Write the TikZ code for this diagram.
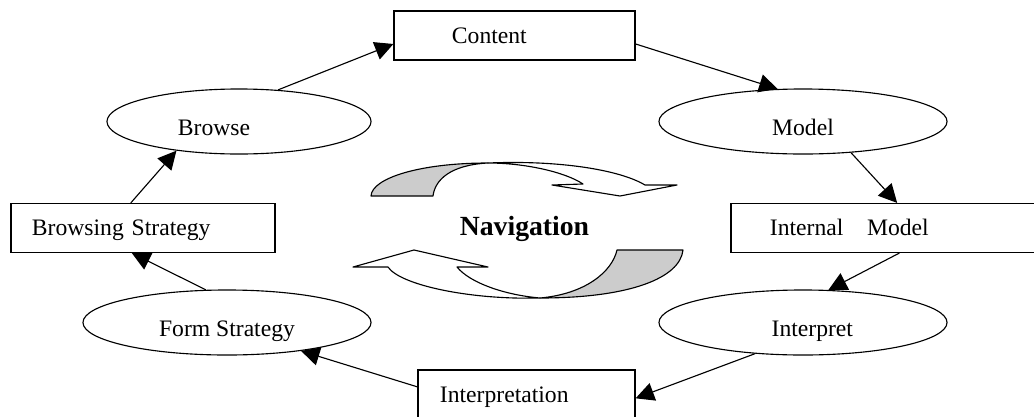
\documentclass[tikz,border=0pt]{standalone}
\usepackage{fontspec}
\setmainfont{Liberation Serif}
\usetikzlibrary{shapes.geometric,arrows.meta}

\begin{document}
\begin{tikzpicture}[
  x=0.025cm, y=-0.025cm,
  font=\fontsize{16.8}{20}\selectfont,
  line width=0.8pt,
  oval/.style={draw, ellipse, inner sep=0pt, minimum width=7.2cm, minimum height=1.625cm, text height=0.7cm, text depth=0pt},
  box/.style={draw, rectangle, inner ysep=0pt, minimum height=1.225cm, align=left, text height=0.375cm, text depth=0pt},
  arrow/.style={-{Triangle[length=0.46cm, width=0.46cm]}},
  shade/.style={draw, fill=gray!40, line join=round},
  band/.style={draw, fill=white, line join=round}
]
\useasboundingbox (0,0) rectangle (1034,416);
\clip (0,0) rectangle (1034,416);
% Boxes
\node[box, inner xsep=1.45cm, text width=3.125cm] (content) at (514.5,35.5) {Content};
\node[box, inner xsep=0.975cm, text width=5.8cm] (intmodel) at (886,228) {Internal\quad Model};
\node[box, inner xsep=0.55cm, text width=4.325cm] (interpretation) at (526.5,394.5) {Interpretation};
\node[box, inner xsep=0.525cm, text width=5.55cm] (browsing) at (143,228) {Browsing Strategy};
% Ellipses
\node[oval, minimum width=6.6cm, text width=3.05cm, align=left] (browse) at (239,121.5) {Browse};
\node[oval] (model) at (803,121.5) {Model};
\node[oval, text width=2.5cm, align=right] (interp) at (803,322.5) {Interpret};
\node[oval] (form) at (227,322.5) {Form Strategy};
% Cycle
\draw[arrow] (browse.39) -- (content.184);
\draw[arrow] (content.-4) -- (model.128);
\draw[arrow] (model.-33) -- (intmodel.66);
\draw[arrow] (intmodel.-62) -- (interp.52);
\draw[arrow] (interp.213) -- (interpretation.-2);
\draw[arrow] (interpretation.176) -- (form.-21);
\draw[arrow] (form.123) -- (browsing.246);
\draw[arrow] (browsing.116) -- (browse.205);
% Curved arrows in the middle
\draw[shade] (371,196) .. controls (372,178) and (420,163) .. (488,163) .. controls (450,165) and (435,180) .. (433,196) -- cycle;
\draw[band] (488,163) .. controls (560,160) and (620,170) .. (645,185) -- (677,185) -- (620,196) -- (552,185) -- (583,184) .. controls (565,172) and (525,163) .. (488,163) -- cycle;
\draw[shade] (617,250) -- (683,250) .. controls (680,278) and (630,298) .. (540,298) .. controls (585,294) and (612,272) .. (617,250) -- cycle;
\draw[band] (540,298) .. controls (470,300) and (400,285) .. (388,267) -- (353,267) -- (414,250) -- (488,267) -- (457,267) .. controls (470,283) and (505,295) .. (540,298) -- cycle;
\node[font=\fontsize{19.7}{24}\selectfont\bfseries, anchor=base] (nav) at (524.5,235) {Navigation};
\end{tikzpicture}
\end{document}
